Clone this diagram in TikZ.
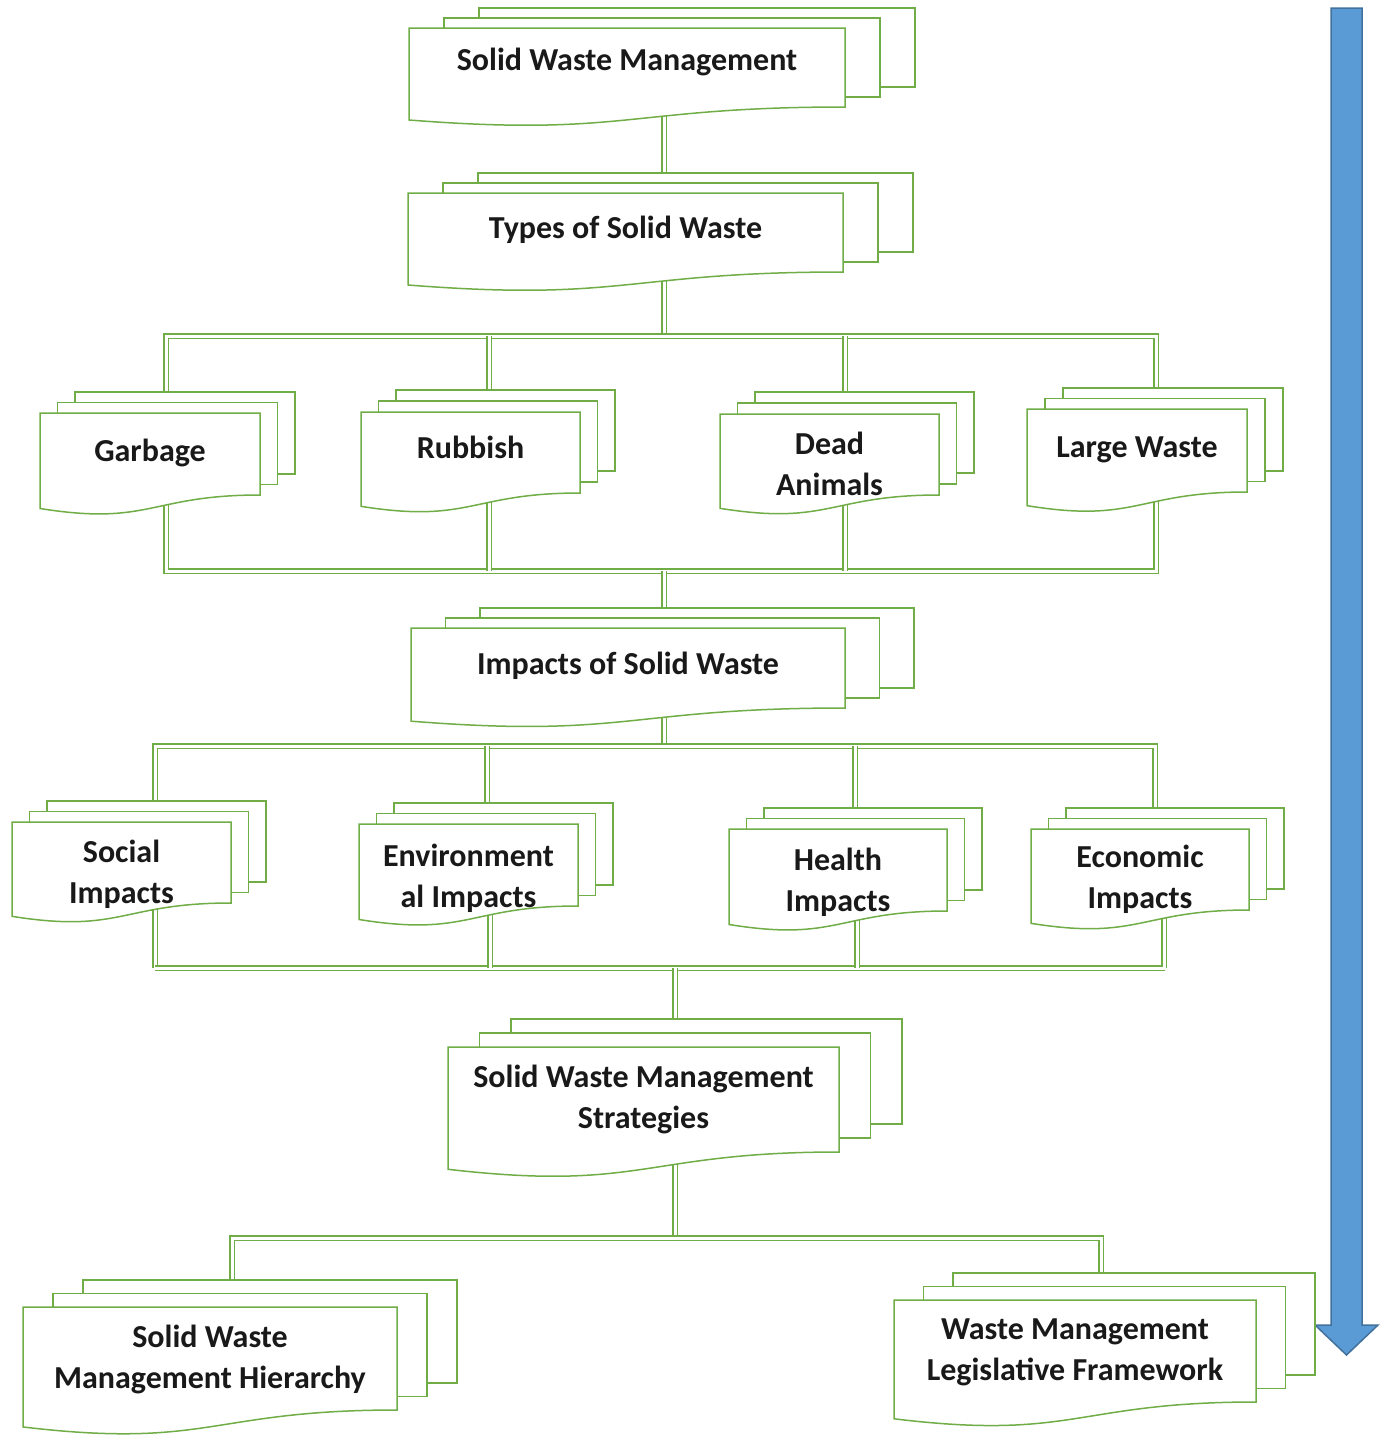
\documentclass[tikz,border=0pt]{standalone}
\usepackage{fontspec}
\setmainfont{Carlito}
\definecolor{lgreen}{RGB}{112,173,71}
\definecolor{afill}{RGB}{91,155,213}
\definecolor{aline}{RGB}{65,113,156}
\newcommand\lblfont{\fontsize{32}{41}\selectfont\bfseries}
\pgfdeclarelayer{background}
\pgfsetlayers{background,main}
\tikzset{
  page/.style={draw=lgreen, line width=1.5pt, fill=white, line join=miter},
  lbl/.style={inner sep=0pt, align=center, font=\lblfont, text=black!90},
  conn/.style={draw=lgreen, line width=1.4pt, double=white, double distance=3pt},
  flowarrow/.style={fill=afill, draw=aline, line width=1.5pt, line join=miter}
}
% #1 name, #2 left, #3 top, #4 width, #5 right-bottom y, #6 dx, #7 dy, #8 text, #9 mean baseline y
\newcommand\docstack[9]{%
  \pgfmathsetmacro\dsH{(#5-#3)/0.802}%
  \pgfmathsetmacro\dsLB{#3+0.934*\dsH}%
  \pgfmathsetmacro\dsCY{#3+1.107*\dsH}%
  \pgfmathsetmacro\dsR{#2+#4}%
  \pgfmathsetmacro\dsM{#2+0.5*#4}%
  \draw[page] ({#2+2*#6},{#3-2*#7}) rectangle ({\dsR+2*#6},{#5-2*#7});
  \draw[page] ({#2+#6},{#3-#7}) rectangle ({\dsR+#6},{#5-#7});
  \draw[page] (#2,#3) -- (\dsR,#3) -- (\dsR,#5) .. controls (\dsM,#5) and (\dsM,\dsCY) .. (#2,\dsLB) -- cycle;
  \node[lbl] (#1) at (\dsM,{#9-8.2}) {#8};
}
\begin{document}
\begin{tikzpicture}[x=1pt,y=-1pt]
\useasboundingbox (0,0) rectangle (1386,1435);

% blue arrow
\draw[flowarrow] (1331,8) -- (1362,8) -- (1362,1325) -- (1378,1325) -- (1346.5,1355) -- (1315,1325) -- (1331,1325) -- cycle;

% document stacks
\docstack{swm}{409}{28}{436}{107}{35}{10}{\strut Solid Waste Management}{70}
\docstack{types}{408}{193}{435}{272}{35}{10}{\strut Types of Solid Waste}{238}
\docstack{garbage}{40}{413}{220}{495}{17.5}{10.5}{\strut Garbage}{461}
\docstack{rubbish}{361}{412}{219}{493}{17.5}{11}{\strut Rubbish}{458}
\docstack{dead}{720}{414}{219}{495}{17.5}{11}{\strut Dead\\\strut Animals}{474.5}
\docstack{large}{1027}{409}{220}{492}{18}{10.5}{\strut Large Waste}{457}
\docstack{impacts}{411}{628}{434}{708}{34.5}{10}{\strut Impacts of Solid Waste}{674}
\docstack{social}{12}{822}{219}{903}{17.5}{10.5}{\strut Social\\\strut Impacts}{882.5}
\docstack{env}{359}{824}{219}{906}{17.5}{10.5}{\strut Environment\\\strut al Impacts}{886.5}
\docstack{health}{729}{829}{218}{911}{17.5}{10.5}{\strut Health\\\strut Impacts}{890.5}
\docstack{econ}{1031}{829}{218}{910}{17.5}{10.5}{\strut Economic\\\strut Impacts}{887.5}
\docstack{strat}{448}{1047}{391}{1152}{31.5}{14}{\strut Solid Waste Management\\\strut Strategies}{1107.5}
\docstack{hier}{23}{1307}{374}{1410}{30}{13.5}{\strut Solid Waste\\\strut Management Hierarchy}{1367.5}
\docstack{legis}{894}{1300}{362}{1402}{29.5}{13.5}{\strut Waste Management\\\strut Legislative Framework}{1360}

% connector junctions
\coordinate (s0) at (664,100);
\coordinate (s1) at (664,250);
\coordinate (s2) at (664,336);
\coordinate (b1w) at (166,336);
\coordinate (b1e) at (1156,336);
\coordinate (b2w) at (166,571);
\coordinate (b2e) at (1156,571);
\coordinate (r1) at (489,336);
\coordinate (r2) at (489,571);
\coordinate (d1) at (845,336);
\coordinate (d2) at (845,571);
\coordinate (i0) at (664,571);
\coordinate (i1) at (664,700);
\coordinate (i2) at (664,746);
\coordinate (b3w) at (155,746);
\coordinate (b3e) at (1155,746);
\coordinate (b4w) at (155,968);
\coordinate (b4e) at (1165,968);
\coordinate (e1) at (487,746);
\coordinate (e2) at (487,860);
\coordinate (e3) at (490,870);
\coordinate (e4) at (490,968);
\coordinate (h1) at (855,746);
\coordinate (h2) at (855,860);
\coordinate (h3) at (857,870);
\coordinate (h4) at (857,968);
\coordinate (c1) at (1155,860);
\coordinate (c2) at (1164,870);
\coordinate (c3) at (1164,968);
\coordinate (t0) at (675,968);
\coordinate (t1) at (675,1120);
\coordinate (t2) at (675,1238);
\coordinate (b5w) at (232,1238);
\coordinate (b5e) at (1101,1238);
\coordinate (l1) at (232,1320);
\coordinate (l2) at (1101,1320);

\begin{pgfonlayer}{background}
\draw[conn] (s0) -- (s1) -- (s2);
\draw[conn] (b2w) -- (b1w) -- (b1e) -- (b2e) -- cycle;
\draw[conn] (r1) -- (r2);
\draw[conn] (d1) -- (d2);
\draw[conn] (i0) -- (i1) -- (i2);
\draw[conn] (b4w) -- (b3w) -- (b3e) -- (c1);
\draw[conn] (c2) -- (c3) -- (b4e) -- (b4w);
\draw[conn] (e1) -- (e2);
\draw[conn] (e3) -- (e4);
\draw[conn] (h1) -- (h2);
\draw[conn] (h3) -- (h4);
\draw[conn] (t0) -- (t1) -- (t2);
\draw[conn] (l1) -- (b5w) -- (b5e) -- (l2);
\end{pgfonlayer}
\end{tikzpicture}
\end{document}
